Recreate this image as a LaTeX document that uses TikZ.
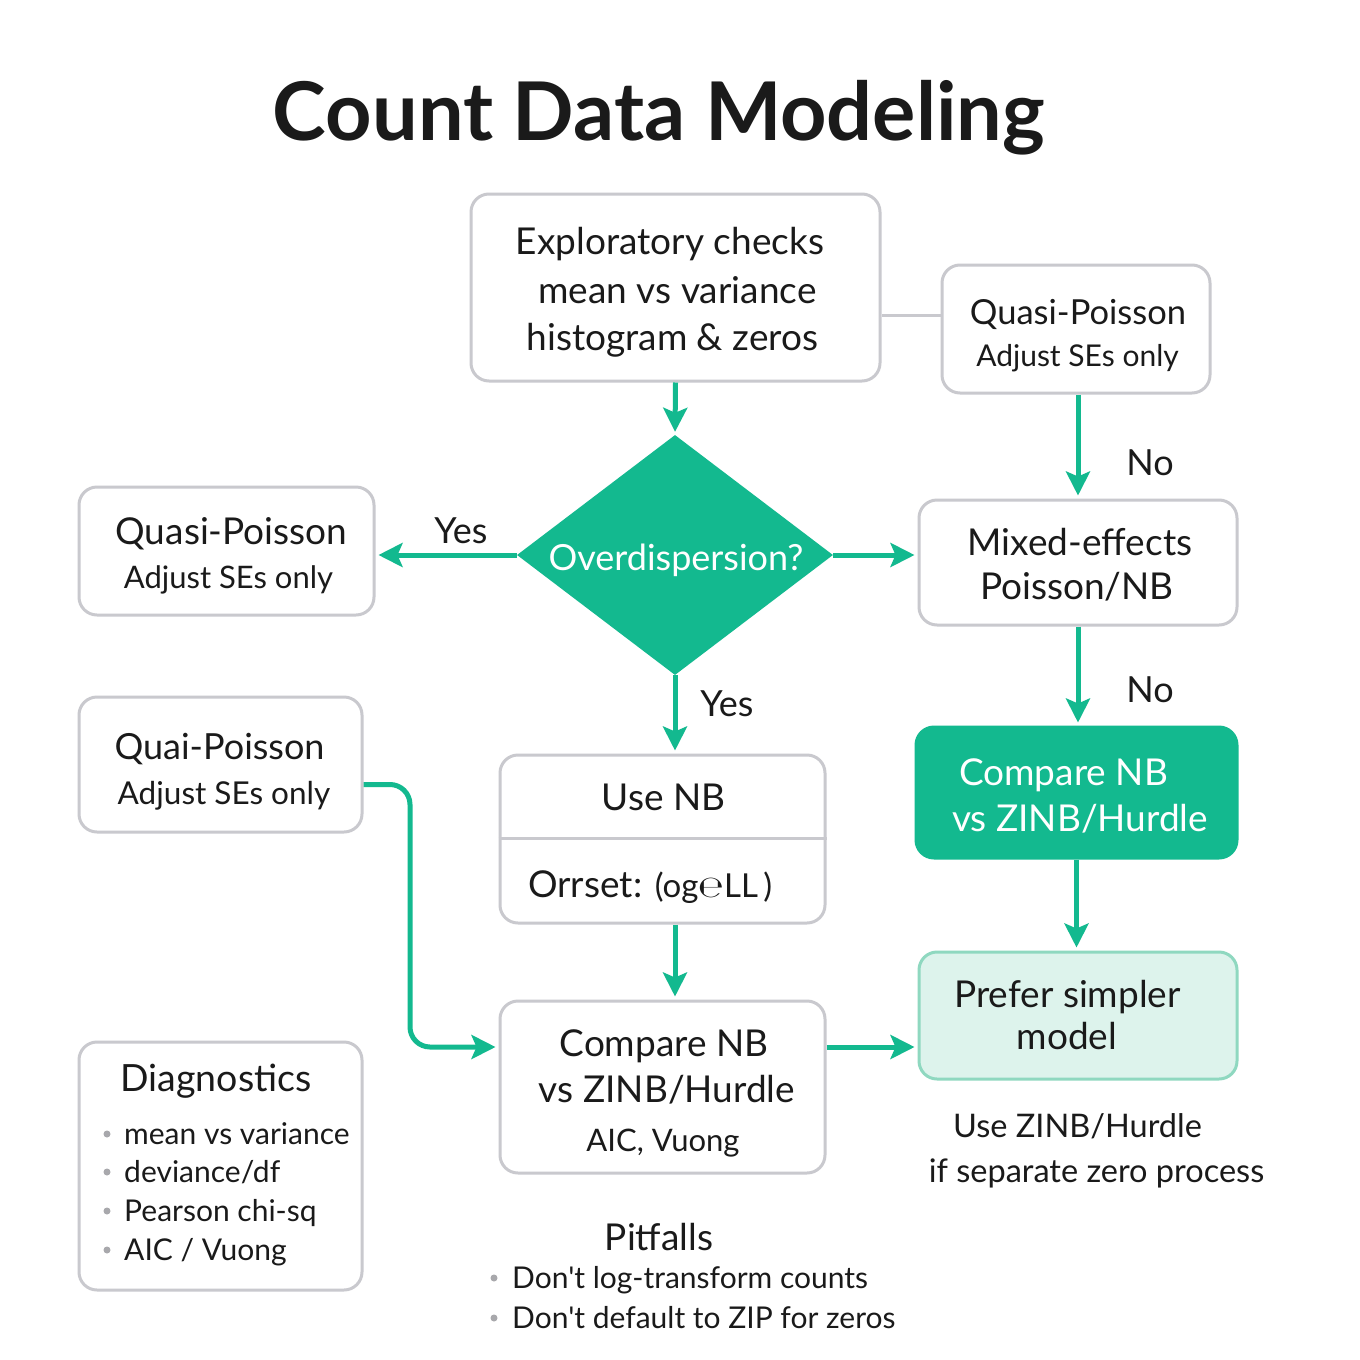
\documentclass[tikz,border=0pt]{standalone}
\usepackage{fontspec}
\setmainfont{Lato}[Ligatures=TeXOff]
\newfontfamily\djvfont{DejaVu Sans}
\usetikzlibrary{shapes.geometric,arrows.meta}
\definecolor{tealA}{HTML}{13B98F}
\definecolor{boxgray}{HTML}{C9C9CE}
\definecolor{mintfill}{HTML}{DDF3EC}
\definecolor{mintline}{HTML}{8FD8C0}
\definecolor{txtc}{HTML}{1A1A1A}
\definecolor{bulgray}{HTML}{A8A8AC}
\newcommand\fsz[1]{\fontsize{#1}{#1}\selectfont}
\tikzset{
  box/.style={draw=boxgray, line width=3pt, rounded corners=18pt, fill=white, inner sep=0pt},
  flow/.style={draw=tealA, line width=5pt, shorten >=3pt, -{Stealth[length=24pt,width=24pt,inset=5pt]}},
  grayline/.style={draw=boxgray, line width=3pt},
  ln/.style={text=txtc, inner sep=0pt, anchor=base},
  lnw/.style={text=white, inner sep=0pt, anchor=base},
  lnl/.style={text=txtc, inner sep=0pt, anchor=base west},
  bul/.style={fill=bulgray, circle, inner sep=0pt, minimum size=7pt},
}
\begin{document}
\begin{tikzpicture}[x=1pt,y=-1pt]
\useasboundingbox[fill=white] (0,0) rectangle (1360,1360);

% title
\node[ln, font=\bfseries\fsz{81}] (title) at (659,140) {Count Data Modeling};

% exploratory
\node[box, minimum width=409pt, minimum height=187pt] (explor) at (675.5,287.5) {};
\node[ln, font=\fsz{37}] (ex1) at (670,254) {Exploratory checks};
\node[ln, font=\fsz{37}] (ex2) at (677.5,303) {mean vs variance};
\node[ln, font=\fsz{37}] (ex3) at (672.5,350) {histogram \& zeros};

% quasi-poisson top right
\node[box, minimum width=268pt, minimum height=128pt] (qpA) at (1076,329) {};
\node[ln, font=\fsz{34.5}] (qpA1) at (1078,324) {Quasi-Poisson};
\node[ln, font=\fsz{30}] (qpA2) at (1077.5,366) {Adjust SEs only};

% quasi-poisson left
\node[box, minimum width=295pt, minimum height=128pt] (qpB) at (226.5,551) {};
\node[ln, font=\fsz{37}] (qpB1) at (231.5,544) {Quasi-Poisson};
\node[ln, font=\fsz{31}] (qpB2) at (228.5,588) {Adjust SEs only};

% diamond
\node[diamond, fill=tealA, inner sep=0pt, minimum width=316pt, minimum height=240pt] (diam) at (675,555) {};
\node[lnw, font=\fsz{36}] (diamT) at (676,570) {Overdispersion?};

% mixed effects
\node[box, minimum width=318pt, minimum height=125pt] (mixed) at (1078,562.5) {};
\node[ln, font=\fsz{37}] (mx1) at (1080,555) {Mixed-effects};
\node[ln, font=\fsz{37}] (mx2) at (1077,599) {Poisson/NB};

% quai-poisson
\node[box, minimum width=283pt, minimum height=135pt] (quai) at (220.5,764.5) {};
\node[ln, font=\fsz{36}] (qu1) at (219.5,759) {Quai-Poisson};
\node[ln, font=\fsz{31.5}] (qu2) at (224,804) {Adjust SEs only};

% use NB
\node[box, minimum width=325pt, minimum height=168pt] (usenb) at (662.5,839) {};
\draw[grayline] (usenb.west |- 0,838) -- (usenb.east |- 0,838);
\node[ln, font=\fsz{37}] (un1) at (663.5,810) {Use NB};
\node[lnl, font=\fsz{37}] (un2) at (528,897) {Orrset: {\fsz{33}(og{\djvfont\fsz{30}℮}LL\,)}};

% compare teal
\node[box, fill=tealA, draw=tealA, minimum width=321pt, minimum height=131pt] (cmpT) at (1076.5,792.5) {};
\node[lnw, font=\fsz{37}] (ct1) at (1063.5,785) {Compare NB};
\node[lnw, font=\fsz{37}] (ct2) at (1080,831) {vs ZINB/Hurdle};

% compare center
\node[box, minimum width=325pt, minimum height=172pt] (cmp) at (662.5,1087) {};
\node[ln, font=\fsz{37}] (cm1) at (664,1056) {Compare NB};
\node[ln, font=\fsz{37}] (cm2) at (667,1102) {vs ZINB/Hurdle};
\node[ln, font=\fsz{31}] (cm3) at (663,1151) {AIC, Vuong};

% prefer simpler
\node[box, fill=mintfill, draw=mintline, minimum width=318pt, minimum height=127pt] (prefer) at (1078,1015.5) {};
\node[ln, font=\fsz{37}] (pr1) at (1067.5,1007) {Prefer simpler};
\node[ln, font=\fsz{37}] (pr2) at (1067,1049) {model};

\node[ln, font=\fsz{32.5}] (zi1) at (1077.5,1137) {Use ZINB/Hurdle};
\node[ln, font=\fsz{32.5}] (zi2) at (1096.5,1182) {if separate zero process};

% diagnostics
\node[box, minimum width=283pt, minimum height=248pt] (diag) at (220.5,1166) {};
\node[ln, font=\fsz{37.5}] (dg0) at (216,1091) {Diagnostics};
\node[lnl, font=\fsz{30}] (dg1) at (124,1144) {mean vs variance};
\node[lnl, font=\fsz{30}] (dg2) at (124,1182) {deviance/df};
\node[lnl, font=\fsz{30}] (dg3) at (124,1221) {Pearson chi-sq};
\node[lnl, font=\fsz{30}] (dg4) at (124,1260) {AIC / Vuong};
\node[bul] (b1) at (107,1134) {};
\node[bul] (b2) at (107,1172) {};
\node[bul] (b3) at (107,1211) {};
\node[bul] (b4) at (107,1250) {};

% pitfalls
\node[ln, font=\fsz{37}] (pf0) at (659,1250) {Pitfalls};
\node[lnl, font=\fsz{30}] (pf1) at (512,1288) {Don't log-transform counts};
\node[lnl, font=\fsz{30}] (pf2) at (512,1328) {Don't default to ZIP for zeros};
\node[bul] (b5) at (494,1278) {};
\node[bul] (b6) at (494,1318) {};

% connectors
\draw[grayline] ([yshift=14pt]qpA.west) -- ([yshift=14pt]qpA.west -| explor.east);
\draw[flow] (explor.south) -- (diam.north);
\draw[flow] (diam.west) -- (diam.west -| qpB.east);
\node[ln, font=\fsz{36}] (yesA) at (461,543) {Yes};
\draw[flow] (diam.east) -- (diam.east -| mixed.west);
\draw[flow] (qpA.south -| mixed.north) -- (mixed.north);
\node[ln, font=\fsz{36}] (noA) at (1150,475) {No};
\draw[flow] (diam.south) -- (diam.south |- usenb.north);
\node[ln, font=\fsz{36}] (yesB) at (727,716) {Yes};
\draw[flow] (diam.south |- usenb.south) -- (diam.south |- cmp.north);
\coordinate (qa) at ([yshift=-20pt]quai.east);
\coordinate (cb) at ([yshift=40pt]cmp.west);
\coordinate (bend) at (410,0);
\draw[flow, rounded corners=20pt] (qa) -- (qa -| bend) -- (bend |- cb) -- (cb);
\draw[flow] (mixed.south) -- (mixed.south |- cmpT.north);
\node[ln, font=\fsz{36}] (noB) at (1150,702) {No};
\draw[flow] (cmpT.south) -- (cmpT.south |- prefer.north);
\draw[flow] ([yshift=40pt]cmp.east) -- ([yshift=40pt]cmp.east -| prefer.west);
\end{tikzpicture}
\end{document}
